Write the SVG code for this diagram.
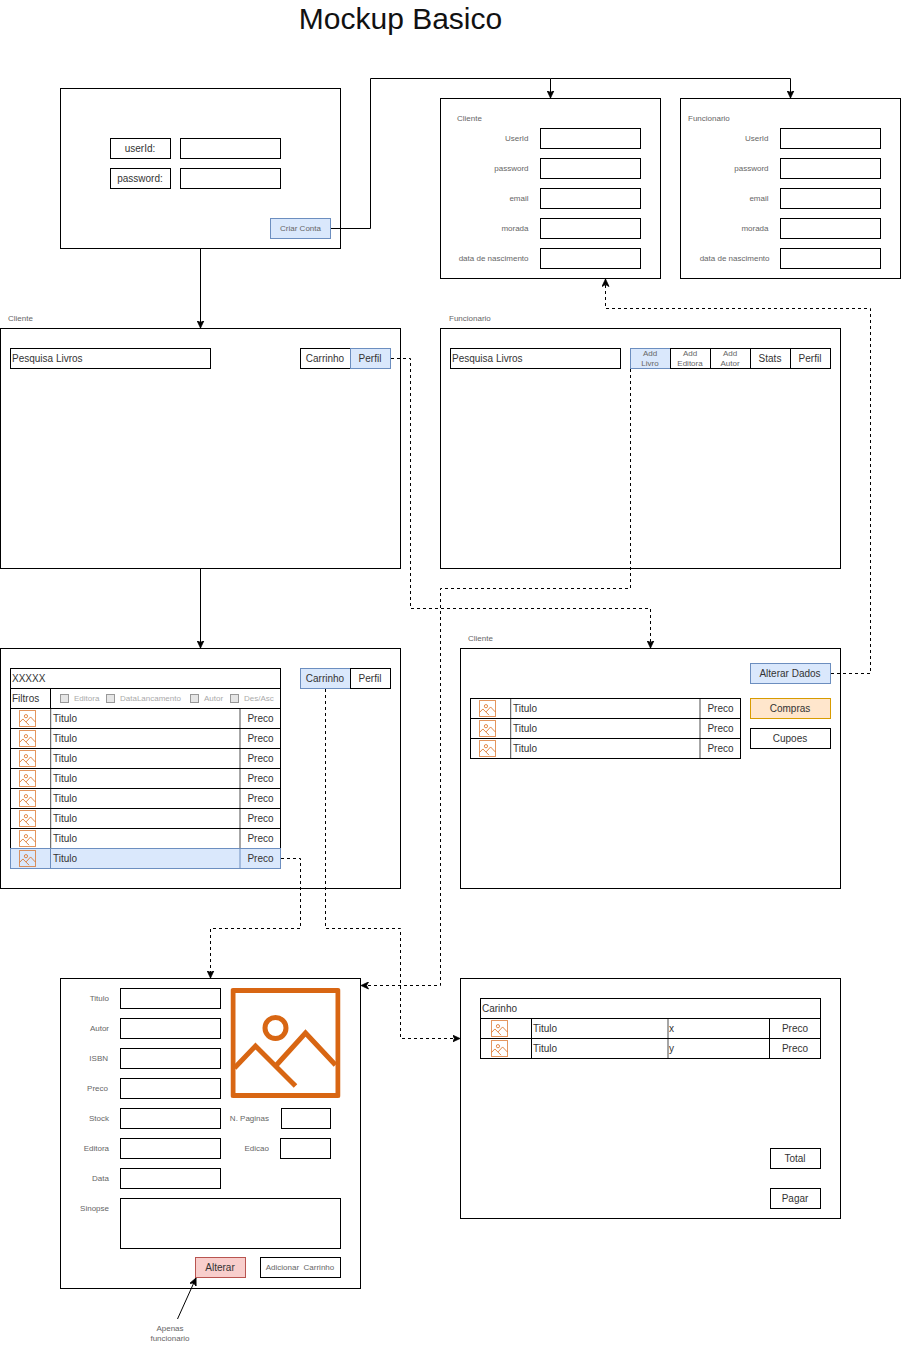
<svg xmlns="http://www.w3.org/2000/svg" width="901" height="1349" viewBox="0 0 901 1349">
<style>
text{font-family:"Liberation Sans",Arial,sans-serif;font-size:10px;fill:#333}
.b{fill:#fff;stroke:#000;stroke-width:1}
.blue{fill:#dae8fc;stroke:#6c8ebf;stroke-width:1}
.c{text-anchor:middle}
.r{text-anchor:end}
.s{font-size:8px;fill:#666}
.g{font-size:8px;fill:#aaa}
.k{fill:#e6e6e6;stroke:#999;stroke-width:1}
.d{fill:none;stroke:#000;stroke-width:1;stroke-dasharray:3 3}
.l{fill:none;stroke:#000;stroke-width:1}
.v{stroke:#000;stroke-width:1}
</style>
<defs>
<marker id="a" viewBox="0 0 8 8" refX="7.5" refY="4" markerWidth="8" markerHeight="8" markerUnits="userSpaceOnUse" orient="auto"><path d="M0 0.5L7.5 4L0 7.5L2 4Z" fill="#000" stroke="#000" stroke-width="0.8"/></marker>
<symbol id="pic" viewBox="0 0 110 110">
<rect x="2.5" y="2.5" width="105" height="105" fill="none" stroke="#d86613" stroke-width="5" stroke-linejoin="round"/>
<circle cx="45" cy="40" r="10.5" fill="none" stroke="#d86613" stroke-width="5"/>
<path d="M4 80L25 58L65 98M46 77L75 45L105 77" fill="none" stroke="#d86613" stroke-width="5"/>
</symbol>
<g id="row"><rect class="b" x="0.5" y="0.5" width="270" height="20"/><use href="#pic" x="9" y="2" width="17" height="17"/><path class="v" d="M40.7 0.5V20.5M230 0.5V20.5" stroke-opacity="0.7"/><text x="43" y="14">Titulo</text><text class="c" x="250.5" y="14">Preco</text></g>
<g id="field"><rect class="b" x="0.5" y="0.5" width="100" height="20"/></g>
</defs>

<text id="title" x="400.5" y="29" class="c" style="font-size:30px;fill:#111">Mockup Basico</text>

<g id="login">
<rect class="b" x="60.5" y="88.5" width="280" height="160"/>
<rect class="b" x="110.5" y="138.5" width="60" height="20"/><text class="c" x="140" y="152">userId:</text>
<rect class="b" x="180.5" y="138.5" width="100" height="20"/>
<rect class="b" x="110.5" y="168.5" width="60" height="20"/><text class="c" x="140" y="182">password:</text>
<rect class="b" x="180.5" y="168.5" width="100" height="20"/>
<rect class="blue" x="270.5" y="218.5" width="60" height="20"/><text class="s c" x="300.5" y="231">Criar Conta</text>
</g>

<g id="registo-cliente">
<rect class="b" x="440.5" y="98.5" width="220" height="180"/>
<text class="s" x="457" y="121">Cliente</text>
<use href="#field" x="540" y="128"/><use href="#field" x="540" y="158"/><use href="#field" x="540" y="188"/><use href="#field" x="540" y="218"/><use href="#field" x="540" y="248"/>
<text class="s r" x="528.5" y="141">UserId</text><text class="s r" x="528.5" y="171">password</text><text class="s r" x="528.5" y="201">email</text><text class="s r" x="528.5" y="231">morada</text><text class="s r" x="528.5" y="261">data de nascimento</text>
</g>

<g id="registo-funcionario">
<rect class="b" x="680.5" y="98.5" width="220" height="180"/>
<text class="s" x="688" y="121">Funcionario</text>
<use href="#field" x="780" y="128"/><use href="#field" x="780" y="158"/><use href="#field" x="780" y="188"/><use href="#field" x="780" y="218"/><use href="#field" x="780" y="248"/>
<text class="s r" x="768.5" y="141">UserId</text><text class="s r" x="768.5" y="171">password</text><text class="s r" x="768.5" y="201">email</text><text class="s r" x="768.5" y="231">morada</text><text class="s r" x="769.5" y="261">data de nascimento</text>
</g>

<g id="home-cliente">
<text class="s" x="8" y="321">Cliente</text>
<rect class="b" x="0.5" y="328.5" width="400" height="240"/>
<rect class="b" x="10.5" y="348.5" width="200" height="20"/><text x="12" y="362">Pesquisa Livros</text>
<rect class="b" x="300.5" y="348.5" width="50" height="20"/><text class="c" x="325" y="362">Carrinho</text>
<rect class="blue" x="350.5" y="348.5" width="40" height="20"/><text class="c" x="370" y="362">Perfil</text>
</g>

<g id="home-funcionario">
<text class="s" x="449" y="321">Funcionario</text>
<rect class="b" x="440.5" y="328.5" width="400" height="240"/>
<rect class="b" x="450.5" y="348.5" width="170" height="20"/><text x="452" y="362">Pesquisa Livros</text>
<rect class="blue" x="630.5" y="348.5" width="40" height="20"/><text class="s c" x="650" y="356">Add</text><text class="s c" x="650" y="366">Livro</text>
<rect class="b" x="670.5" y="348.5" width="40" height="20"/><text class="s c" x="690" y="356">Add</text><text class="s c" x="690" y="366">Editora</text>
<rect class="b" x="710.5" y="348.5" width="40" height="20"/><text class="s c" x="730" y="356">Add</text><text class="s c" x="730" y="366">Autor</text>
<rect class="b" x="750.5" y="348.5" width="40" height="20"/><text class="c" x="770" y="362">Stats</text>
<rect class="b" x="790.5" y="348.5" width="40" height="20"/><text class="c" x="810" y="362">Perfil</text>
</g>

<g id="lista">
<rect class="b" x="0.5" y="648.5" width="400" height="240"/>
<rect class="b" x="10.5" y="668.5" width="270" height="20"/><text x="12" y="682">XXXXX</text>
<rect class="b" x="10.5" y="688.5" width="40" height="20"/><text x="12" y="702">Filtros</text>
<rect class="b" x="50.5" y="688.5" width="230" height="20"/>
<rect class="k" x="60.5" y="694.5" width="8" height="8"/><text class="g" x="74" y="701">Editora</text>
<rect class="k" x="106.5" y="694.5" width="8" height="8"/><text class="g" x="120" y="701">DataLancamento</text>
<rect class="k" x="190.5" y="694.5" width="8" height="8"/><text class="g" x="204" y="701">Autor</text>
<rect class="k" x="230.5" y="694.5" width="8" height="8"/><text class="g" x="244" y="701">Des/Asc</text>
<use href="#row" x="10" y="708"/><use href="#row" x="10" y="728"/><use href="#row" x="10" y="748"/><use href="#row" x="10" y="768"/><use href="#row" x="10" y="788"/><use href="#row" x="10" y="808"/><use href="#row" x="10" y="828"/>
<rect class="blue" x="10.5" y="848.5" width="270" height="20"/><use href="#pic" x="19" y="850" width="17" height="17"/>
<path d="M50.5 848.5V868.5M240 848.5V868.5" stroke="#6c8ebf" fill="none"/>
<text x="53" y="862">Titulo</text><text class="c" x="260.5" y="862">Preco</text>
<rect class="blue" x="300.5" y="668.5" width="50" height="20"/><text class="c" x="325" y="682">Carrinho</text>
<rect class="b" x="350.5" y="668.5" width="40" height="20"/><text class="c" x="370" y="682">Perfil</text>
</g>

<g id="perfil">
<text class="s" x="468" y="641">Cliente</text>
<rect class="b" x="460.5" y="648.5" width="380" height="240"/>
<use href="#row" x="470" y="698"/><use href="#row" x="470" y="718"/><use href="#row" x="470" y="738"/>
<rect class="blue" x="750.5" y="663.5" width="80" height="20"/><text class="c" x="790" y="677">Alterar Dados</text>
<rect x="750.5" y="698.5" width="80" height="20" fill="#ffe6cc" stroke="#d79b00"/><text class="c" x="790" y="712">Compras</text>
<rect class="b" x="750.5" y="728.5" width="80" height="20"/><text class="c" x="790" y="742">Cupoes</text>
</g>

<g id="livro">
<rect class="b" x="60.5" y="978.5" width="300" height="310"/>
<use href="#field" x="120" y="988"/><use href="#field" x="120" y="1018"/><use href="#field" x="120" y="1048"/><use href="#field" x="120" y="1078"/><use href="#field" x="120" y="1108"/><use href="#field" x="120" y="1138"/><use href="#field" x="120" y="1168"/>
<text class="s r" x="109" y="1001">Titulo</text><text class="s r" x="109" y="1031">Autor</text><text class="s r" x="108" y="1061">ISBN</text><text class="s r" x="108" y="1091">Preco</text><text class="s r" x="109" y="1121">Stock</text><text class="s r" x="109" y="1151">Editora</text><text class="s r" x="109" y="1181">Data</text><text class="s r" x="109" y="1211">Sinopse</text>
<use href="#pic" x="230.5" y="988" width="110" height="110"/>
<text class="s r" x="269" y="1121">N. Paginas</text><rect class="b" x="281.5" y="1108.5" width="49" height="20"/>
<text class="s r" x="269" y="1151">Edicao</text><rect class="b" x="280.5" y="1138.5" width="50" height="20"/>
<rect class="b" x="120.5" y="1198.5" width="220" height="50"/>
<rect x="195.5" y="1257.5" width="50" height="20" fill="#f8cecc" stroke="#b85450"/><text class="c" x="220" y="1271">Alterar</text>
<rect class="b" x="260.5" y="1257.5" width="80" height="20"/><text class="s c" x="300" y="1270" xml:space="preserve">Adicionar  Carrinho</text>
<text class="s c" x="170" y="1331">Apenas</text><text class="s c" x="170" y="1341">funcionario</text>
</g>

<g id="carrinho">
<rect class="b" x="460.5" y="978.5" width="380" height="240"/>
<rect class="b" x="480.5" y="998.5" width="340" height="20"/><text x="482" y="1012">Carinho</text>
<rect class="b" x="480.5" y="1018.5" width="340" height="20"/><rect class="b" x="480.5" y="1038.5" width="340" height="20"/>
<use href="#pic" x="491" y="1020" width="17" height="17"/><use href="#pic" x="491" y="1040" width="17" height="17"/>
<path class="v" d="M531.5 1018.5V1058.5M769.5 1018.5V1058.5"/><path class="v" d="M668 1018.5V1058.5" stroke-opacity="0.7"/>
<text x="533" y="1032">Titulo</text><text x="669" y="1032">x</text><text class="c" x="795" y="1032">Preco</text>
<text x="533" y="1052">Titulo</text><text x="669" y="1052">y</text><text class="c" x="795" y="1052">Preco</text>
<rect class="b" x="770.5" y="1148.5" width="50" height="20"/><text class="c" x="795" y="1162">Total</text>
<rect class="b" x="770.5" y="1188.5" width="50" height="20"/><text class="c" x="795" y="1202">Pagar</text>
</g>

<g id="connectors">
<path class="l" marker-end="url(#a)" d="M200.5 248.5V328"/>
<path class="l" marker-end="url(#a)" d="M200.5 568.5V648"/>
<path class="l" marker-end="url(#a)" d="M331 228.5H370.5V78.5H550.5V98"/>
<path class="l" marker-end="url(#a)" d="M550.5 78.5H790.5V98"/>
<path class="l" marker-end="url(#a)" d="M177.5 1319L196 1278"/>
<path class="d" marker-end="url(#a)" d="M391 358.5H410.5V608.5H650.5V648"/>
<path class="d" marker-end="url(#a)" d="M630.5 369V588.5H440.5V985.5H361"/>
<path class="d" marker-end="url(#a)" d="M831 673.5H870.5V308.5H605.5V279"/>
<path class="d" marker-end="url(#a)" d="M281 858.5H300.5V928.5H210.5V978"/>
<path class="d" marker-end="url(#a)" d="M325.5 689V928.5H400.5V1038.5H460"/>
</g>
</svg>
